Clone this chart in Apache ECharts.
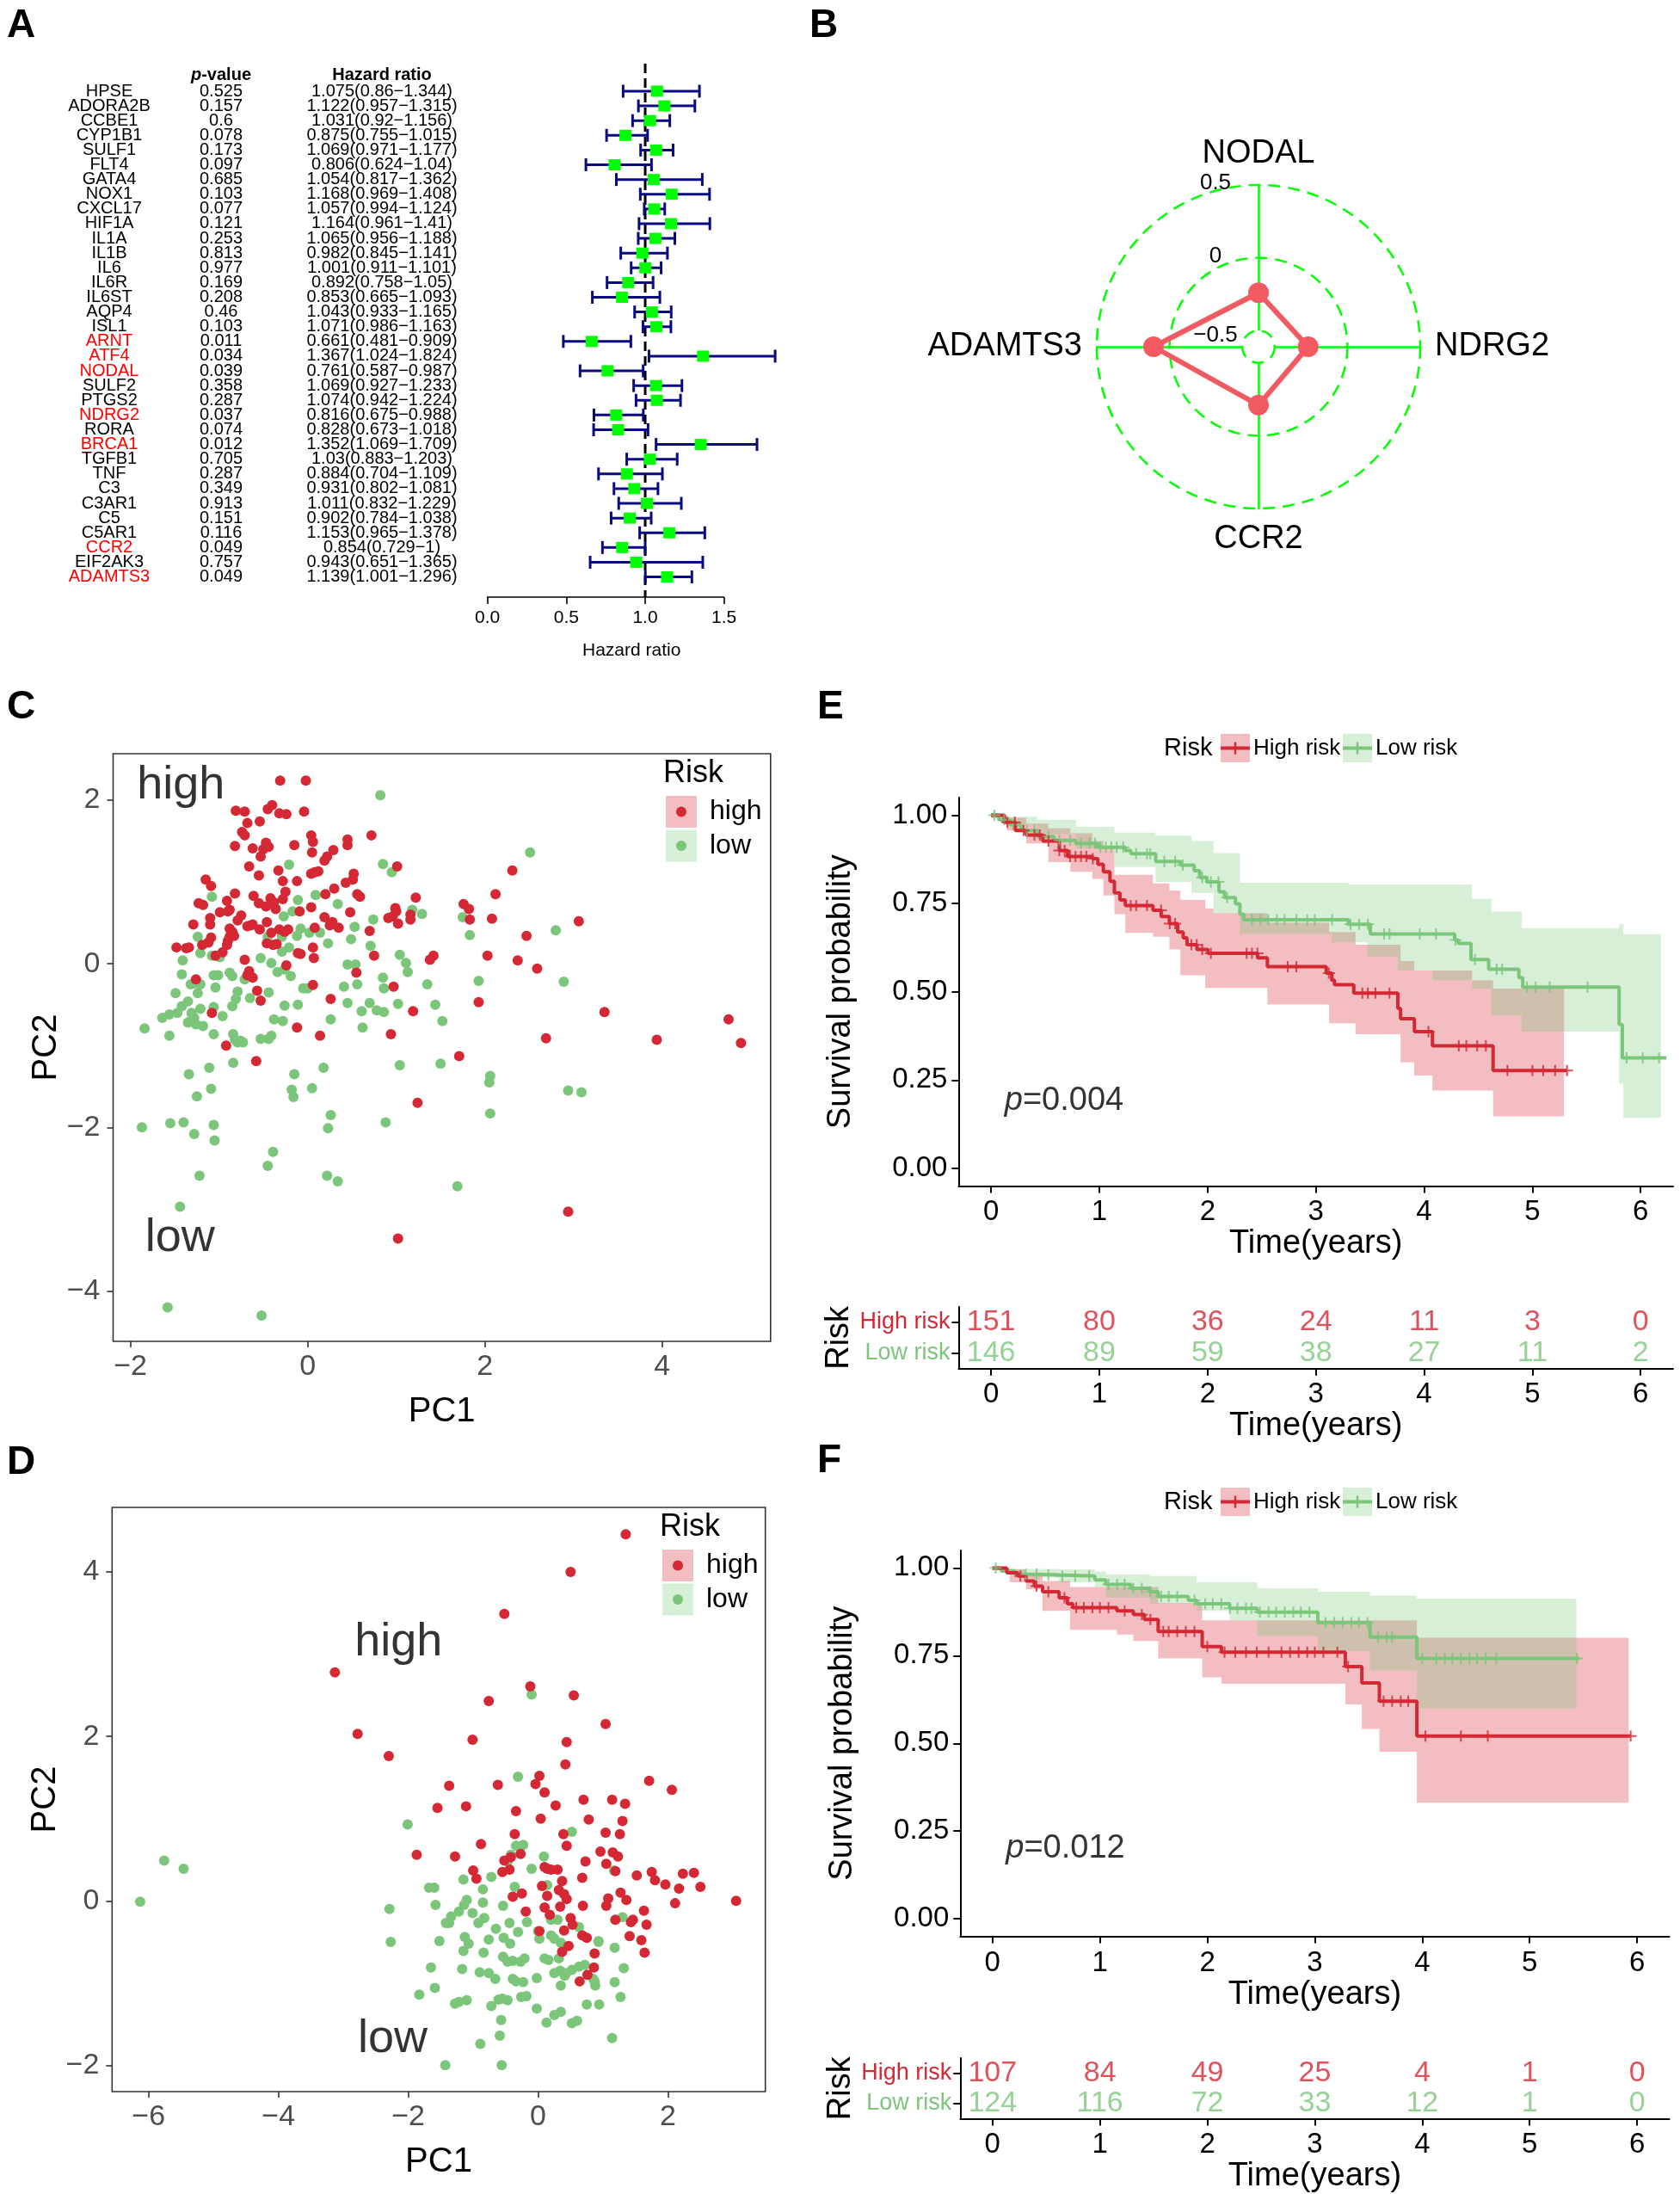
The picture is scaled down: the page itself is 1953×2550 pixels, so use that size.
<!DOCTYPE html>
<html><head><meta charset="utf-8">
<script src="https://cdn.jsdelivr.net/npm/echarts@6/dist/echarts.min.js"></script>
<style>html,body{margin:0;padding:0;background:#fff}#c{width:1953px;height:2550px}</style>
</head><body><div id="c"></div><script>
// ---------------- DATA ----------------
// Panel A
const genes = ['HPSE','ADORA2B','CCBE1','CYP1B1','SULF1','FLT4','GATA4','NOX1','CXCL17','HIF1A','IL1A','IL1B','IL6','IL6R','IL6ST','AQP4','ISL1','ARNT','ATF4','NODAL','SULF2','PTGS2','NDRG2','RORA','BRCA1','TGFB1','TNF','C3','C3AR1','C5','C5AR1','CCR2','EIF2AK3','ADAMTS3'];
const pValues = [0.525,0.157,0.6,0.078,0.173,0.097,0.685,0.103,0.077,0.121,0.253,0.813,0.977,0.169,0.208,0.46,0.103,0.011,0.034,0.039,0.358,0.287,0.037,0.074,0.012,0.705,0.287,0.349,0.913,0.151,0.116,0.049,0.757,0.049];
const hr = [1.075,1.122,1.031,0.875,1.069,0.806,1.054,1.168,1.057,1.164,1.065,0.982,1.001,0.892,0.853,1.043,1.071,0.661,1.367,0.761,1.069,1.074,0.816,0.828,1.352,1.03,0.884,0.931,1.011,0.902,1.153,0.854,0.943,1.139];
const hrLower = [0.86,0.957,0.92,0.755,0.971,0.624,0.817,0.969,0.994,0.961,0.956,0.845,0.911,0.758,0.665,0.933,0.986,0.481,1.024,0.587,0.927,0.942,0.675,0.673,1.069,0.883,0.704,0.802,0.832,0.784,0.965,0.729,0.651,1.001];
const hrUpper = [1.344,1.315,1.156,1.015,1.177,1.04,1.362,1.408,1.124,1.41,1.188,1.141,1.101,1.05,1.093,1.165,1.163,0.909,1.824,0.987,1.233,1.224,0.988,1.018,1.709,1.203,1.109,1.081,1.229,1.038,1.378,1,1.365,1.296];
const redGenes = ['ARNT','ATF4','NODAL','NDRG2','BRCA1','CCR2','ADAMTS3'];
const forestTicks = [0, 0.5, 1, 1.5];

// Panel B
const radarGenes = ['NODAL','ADAMTS3','CCR2','NDRG2'];
const radarValues = [-0.24, 0.11, -0.21, -0.27];
const radarRings = [-0.5, 0, 0.5];
const radarMin = -0.6111, radarMax = 0.5;

// Panel C
const pcaCHigh = [[-0.31,2.24],[-0.02,2.24],[-0.81,1.87],[-0.71,1.86],[-0.45,1.89],[-0.40,1.94],[-0.32,1.84],[-0.24,1.83],[-0.04,1.86],[-0.68,1.72],
[-0.54,1.74],[-0.74,1.61],[-0.71,1.57],[-0.82,1.44],[0.04,1.57],[0.06,1.49],[0.45,1.52],[0.45,1.45],[0.72,1.57],[-0.62,1.41],
[-0.47,1.48],[-0.50,1.40],[-0.44,1.43],[-0.53,1.31],[-0.15,1.45],[0.05,1.36],[0.29,1.39],[0.22,1.31],[0.19,1.26],[0.12,1.13],
[1.01,1.19],[-0.66,1.19],[-0.33,1.14],[-0.55,1.08],[-0.28,1.01],[-0.12,1.01],[0.04,1.10],[0.08,1.12],[0.52,1.10],[0.51,1.03],
[0.43,0.99],[0.30,0.92],[-1.15,1.03],[-1.09,0.95],[-0.82,0.86],[-0.61,0.83],[-0.42,0.80],[-0.25,0.88],[-0.28,0.79],[0.20,0.85],
[0.56,0.85],[0.59,0.82],[1.22,0.81],[0.99,0.68],[1.00,0.64],[0.96,0.58],[0.91,0.56],[1.02,0.49],[1.16,0.54],[1.16,0.60],
[-1.23,0.74],[-1.18,0.72],[-0.91,0.77],[-0.88,0.66],[-0.99,0.63],[-0.90,0.64],[-0.55,0.74],[-0.47,0.70],[-0.38,0.75],[-0.36,0.67],
[-0.09,0.64],[0.04,0.69],[0.48,0.63],[0.19,0.57],[0.35,0.44],[0.25,0.47],[0.28,0.51],[1.76,0.73],[1.82,0.67],[1.83,0.54],
[2.08,0.55],[2.12,0.85],[2.31,1.14],[0.70,0.40],[-1.10,0.56],[-1.10,0.48],[-1.29,0.48],[-0.79,0.53],[-0.75,0.59],[-0.88,0.43],
[-0.68,0.46],[-0.64,0.47],[-0.62,0.48],[-0.54,0.42],[-0.46,0.51],[-0.41,0.38],[-0.35,0.24],[-0.26,0.39],[-0.22,0.42],[-0.32,0.42],
[-0.11,0.13],[-0.08,0.12],[0.06,0.20],[0.07,0.07],[0.08,0.44],[-1.09,0.32],[-0.88,0.33],[-0.85,0.39],[-0.83,0.34],[-0.90,0.28],
[-0.91,0.23],[-0.96,0.14],[-1.04,0.10],[-1.12,0.26],[-1.48,0.20],[-1.37,0.19],[-1.34,0.20],[-1.19,0.23],[-0.71,0.05],[-0.66,-0.09],
[-0.68,-0.14],[-0.62,-0.17],[-0.46,0.25],[-0.39,0.23],[-0.24,-0.02],[0.75,0.10],[0.55,-0.11],[0.97,-0.28],[0.06,-0.26],[0.26,-0.43],
[-1.26,-0.19],[-1.08,-0.60],[-0.57,-0.33],[-0.53,-0.45],[-0.92,-1.00],[-0.58,-1.19],[-0.12,-0.78],[0.14,-0.88],[1.93,-0.47],[0.94,-0.86],
[1.19,-0.58],[3.35,-0.59],[4.75,-0.68],[4.89,-0.97],[3.94,-0.93],[2.69,-0.91],[1.71,-1.13],[1.24,-1.70],[2.94,-3.03],[1.02,-3.36],
[2.47,0.34],[3.06,0.52],[2.03,0.10],[2.37,0.04],[1.42,0.10],[1.38,0.05],[2.59,-0.06]];
const pcaCLow = [[0.82,2.06],[2.51,1.36],[-0.21,1.21],[0.85,1.22],[0.95,1.12],[-1.08,0.82],[-0.11,0.78],[0.09,0.84],[0.34,0.73],[0.74,0.54],
[1.18,0.66],[1.29,0.61],[1.75,0.57],[2.80,0.41],[1.83,0.35],[0.53,0.45],[0.49,0.30],[-1.24,0.33],[-1.21,0.13],[-1.08,0.10],
[-0.99,0.08],[-1.41,0.04],[-1.42,-0.13],[-0.88,-0.11],[-0.85,-0.15],[-1.01,-0.14],[-1.06,-0.14],[-1.04,-0.29],[-0.53,0.07],[-0.41,0.01],
[-0.29,0.15],[-0.45,0.33],[-0.21,0.20],[-0.26,-0.07],[-0.19,-0.15],[-0.34,-0.10],[-0.08,0.43],[0.02,0.38],[0.14,0.38],[0.23,0.25],
[-0.12,0.34],[-0.29,0.33],[-0.27,0.58],[-0.17,0.64],[0.71,0.22],[0.45,-0.01],[0.54,-0.01],[1.11,0.01],[1.13,-0.10],[1.04,0.11],
[-1.49,-0.36],[-1.47,-0.60],[-1.42,-0.52],[-1.35,-0.46],[-1.32,-0.25],[-1.28,-0.24],[-1.21,-0.25],[-1.24,-0.36],[-1.31,-0.60],[-1.28,-0.66],
[-1.32,-0.70],[-1.35,-0.72],[-1.26,-0.74],[-1.18,-0.76],[-1.21,-0.55],[-1.64,-0.66],[-1.56,-0.62],[-1.84,-0.79],[-1.56,-0.88],[-0.96,-0.64],
[-1.06,-0.53],[-0.85,-0.52],[-0.79,-0.34],[-0.71,-0.19],[-0.81,-0.43],[-0.65,-0.42],[-0.44,-0.35],[-0.38,-0.68],[-0.28,-0.70],[-0.26,-0.51],
[-0.11,-0.50],[-0.05,-0.30],[0.00,-0.30],[0.26,-0.68],[0.41,-0.28],[0.45,-0.48],[0.56,-0.25],[0.61,-0.58],[0.70,-0.48],[0.62,-0.78],
[0.78,-0.57],[0.86,-0.59],[0.86,-0.30],[0.85,-0.17],[1.02,-0.49],[-1.06,-0.86],[-0.84,-0.86],[-0.82,-0.93],[-0.79,-0.96],[-0.76,-0.94],
[-0.73,-0.96],[-0.84,-1.21],[-0.53,-0.92],[-0.41,-0.88],[-0.44,-0.92],[1.35,-0.25],[1.44,-0.50],[1.52,-0.70],[1.93,-0.21],[2.89,-0.22],
[-1.11,-1.27],[-1.34,-1.35],[-1.09,-1.53],[-1.25,-1.62],[-0.18,-1.54],[-0.16,-1.63],[-0.15,-1.35],[0.05,-1.52],[0.18,-1.27],[1.04,-1.24],
[1.50,-1.22],[2.06,-1.37],[2.05,-1.45],[2.94,-1.55],[3.09,-1.57],[-1.87,-2.00],[-1.55,-1.95],[-1.40,-1.94],[-1.28,-2.08],[-1.06,-1.97],
[-1.05,-2.16],[-0.39,-2.30],[-0.45,-2.47],[0.23,-2.01],[0.26,-1.85],[0.88,-1.94],[2.06,-1.83],[-1.22,-2.59],[0.22,-2.59],[0.34,-2.66],
[1.69,-2.72],[-1.44,-2.97],[-1.58,-4.20],[-0.52,-4.30]];
const pcaCText = [['high', -1.43, 2.18], ['low', -1.44, -3.36]];
const pcaCXTicks = [-2, 0, 2, 4];
const pcaCYTicks = [-4, -2, 0, 2];
const pcaCXRange = [-2.195, 5.224], pcaCYRange = [-4.616, 2.568];

// Panel D
const pcaDHigh = [[1.35,4.46],[0.50,4.00],[-0.52,3.49],[-3.13,2.78],[-0.12,2.61],[0.55,2.50],[-0.76,2.43],[1.04,2.15],[-2.78,2.03],[-1.01,1.96],
[0.44,1.93],[-2.30,1.76],[0.42,1.66],[1.71,1.46],[0.02,1.52],[-0.04,1.42],[-0.62,1.41],[-1.37,1.40],[2.06,1.35],[0.10,1.32],
[0.27,1.16],[0.70,1.23],[1.14,1.23],[1.34,1.18],[-1.55,1.13],[-1.11,1.15],[-0.34,1.09],[0.04,1.00],[0.78,0.99],[1.30,0.97],
[0.39,0.81],[1.04,0.83],[1.26,0.81],[-0.36,0.81],[0.44,0.67],[-0.88,0.69],[-1.87,0.56],[-1.28,0.54],[-0.27,0.57],[0.96,0.60],
[1.15,0.59],[1.23,0.54],[0.73,0.48],[1.05,0.45],[-0.42,0.53],[-0.52,0.49],[0.14,0.39],[0.20,0.38],[0.30,0.38],[0.10,0.41],
[-1.00,0.37],[-0.55,0.35],[-0.44,0.38],[-0.95,0.27],[1.19,0.36],[1.75,0.35],[1.52,0.31],[1.80,0.25],[1.96,0.20],[2.23,0.33],
[2.40,0.34],[2.50,0.17],[2.17,0.15],[0.68,0.28],[0.37,0.24],[0.06,0.18],[0.32,0.13],[0.40,0.08],[0.14,0.06],[-0.25,0.09],
[-0.39,0.05],[0.44,0.02],[1.27,0.10],[1.36,0.01],[1.08,0.03],[1.05,-0.06],[2.11,-0.03],[3.05,0.00],[0.69,-0.06],[0.34,-0.07],
[0.10,-0.08],[-0.19,-0.13],[1.63,-0.12],[0.18,-0.17],[0.50,-0.21],[1.19,-0.23],[1.46,-0.23],[1.43,-0.26],[1.67,-0.29],[0.53,-0.29],
[0.68,-0.42],[0.75,-0.45],[1.41,-0.43],[1.59,-0.48],[0.40,-0.36],[0.02,-0.37],[0.47,-0.55],[0.37,-0.62],[1.64,-0.63],[0.86,-0.81],
[0.76,-0.90],[0.64,-0.98],[0.87,-0.64]];
const pcaDLow = [[-0.10,2.51],[-0.31,1.51],[-2.01,0.93],[0.52,0.84],[-0.34,0.67],[-0.23,0.68],[-0.42,0.56],[0.09,0.54],[-0.47,0.48],[-0.10,0.39],
[-5.76,0.49],[-5.46,0.39],[-6.13,-0.01],[-2.29,-0.10],[-2.27,-0.50],[-1.68,0.16],[-1.60,0.16],[-1.15,0.26],[-0.72,0.29],[-1.14,-0.05],
[-1.10,0.01],[-0.85,0.14],[-0.36,0.17],[0.14,0.19],[1.17,0.37],[-1.58,-0.05],[-1.34,-0.19],[-1.22,-0.13],[-1.01,-0.15],[-1.37,-0.27],
[-0.85,-0.02],[-0.83,-0.21],[-1.13,-0.44],[-0.92,-0.27],[-0.65,-0.34],[-0.44,-0.27],[-0.54,-0.06],[-0.17,-0.26],[0.00,-0.37],[0.02,-0.46],
[0.20,-0.23],[0.30,-0.23],[0.20,-0.42],[0.25,-0.46],[0.35,-0.51],[0.63,-0.32],[0.93,-0.49],[1.18,-0.57],[1.30,-0.20],[-1.42,-0.27],
[-1.15,-0.61],[-1.07,-0.52],[-0.84,-0.63],[-0.76,-0.47],[-0.53,-0.45],[-0.43,-0.52],[-0.31,-0.38],[-1.52,-0.49],[-1.65,-0.81],[-1.17,-0.83],
[-0.90,-0.87],[-0.76,-0.88],[-0.54,-0.68],[-0.47,-0.74],[-0.39,-0.73],[-0.27,-0.74],[-0.21,-0.70],[0.10,-0.70],[-0.02,-0.94],[0.16,-0.72],
[0.32,-0.70],[0.34,-0.85],[0.25,-0.88],[0.43,-0.88],[0.41,-0.91],[0.52,-0.84],[0.63,-0.80],[0.72,-0.78],[0.87,-0.98],[0.88,-1.03],
[0.85,-0.95],[0.93,-0.50],[1.18,-0.99],[1.32,-0.82],[1.27,-1.17],[-0.23,-0.99],[-0.39,-0.95],[-0.34,-0.98],[-0.66,-0.95],[-0.26,-1.17],
[-0.18,-1.16],[-0.02,-1.31],[0.35,-1.03],[0.35,-1.35],[0.25,-1.39],[0.13,-1.48],[0.52,-1.49],[0.60,-1.46],[0.75,-1.26],[0.94,-1.26],
[-1.59,-1.06],[-1.83,-1.14],[-1.22,-1.23],[-1.28,-1.25],[-1.10,-1.21],[-0.72,-1.28],[-0.61,-1.20],[-0.55,-1.19],[-0.47,-1.21],[-0.57,-1.45],
[-0.59,-1.64],[-0.89,-1.74],[-1.43,-2.00],[-0.56,-2.00],[1.14,-1.67]];
const pcaDText = [['high', -2.15, 3.14], ['low', -2.24, -1.68]];
const pcaDXTicks = [-6, -4, -2, 0, 2];
const pcaDYTicks = [-2, 0, 2, 4];
const pcaDXRange = [-6.562, 3.50], pcaDYRange = [-2.321, 4.786];

// Panels E / F (Kaplan-Meier)
const timeTicks = [0, 1, 2, 3, 4, 5, 6];
const survTicks = [0, 0.25, 0.5, 0.75, 1];
const riskGroups = ['Low risk', 'High risk'];

const kmEHighT = [0,0.122,0.224,0.325,0.478,0.63,0.707,0.935,0.986,1.037,1.098,1.139,1.19,1.24,1.495,1.571,1.647,1.723,1.774,1.81,1.901,2.003,2.461,2.552,3.096,3.147,3.172,3.35,3.757,3.782,3.91,4.077,4.637,5.318];
const kmEHighS = [1,0.98,0.957,0.944,0.927,0.90,0.883,0.877,0.861,0.84,0.813,0.78,0.76,0.744,0.731,0.713,0.693,0.669,0.653,0.633,0.62,0.609,0.596,0.571,0.553,0.533,0.52,0.496,0.453,0.424,0.387,0.347,0.277,0.277];
const kmEHighCensor = [0.15,0.22,0.30,0.40,0.45,0.53,0.63,0.68,0.73,0.78,0.83,0.88,0.94,1.29,1.34,1.44,1.57,1.65,1.70,1.85,1.90,1.95,2.03,2.36,2.41,2.46,2.74,2.82,3.12,3.43,3.48,3.55,3.68,4.04,4.32,4.39,4.49,4.57,4.77,5.00,5.10,5.21,5.32];
const kmEHighBandT = [0,0.147,0.325,0.529,0.732,0.935,1.037,1.139,1.24,1.495,1.647,1.749,1.978,2.054,2.552,3.122,3.366,3.782,3.909,4.077,4.443,4.637,5.292];
const kmEHighLo = [0.993,0.957,0.92,0.867,0.84,0.82,0.773,0.72,0.667,0.656,0.62,0.547,0.511,0.511,0.464,0.411,0.38,0.3,0.263,0.22,0.22,0.147,0.147];
const kmEHighUp = [1.0,0.993,0.976,0.963,0.949,0.927,0.907,0.831,0.831,0.807,0.787,0.76,0.736,0.723,0.696,0.669,0.633,0.587,0.56,0.56,0.533,0.509,0.509];

const kmELowT = [0,0.071,0.173,0.275,0.427,0.58,0.783,0.986,1.24,1.291,1.52,1.749,1.876,1.927,1.993,2.105,2.156,2.257,2.298,2.334,3.3,3.503,4.281,4.316,4.433,4.596,4.875,4.911,5.801,5.831,6.238];
const kmELowS = [1,0.987,0.973,0.957,0.94,0.929,0.92,0.909,0.90,0.891,0.869,0.859,0.843,0.824,0.811,0.783,0.767,0.749,0.72,0.704,0.691,0.664,0.647,0.637,0.591,0.564,0.54,0.513,0.407,0.313,0.313];
const kmELowCensor = [0.03,0.12,0.2,0.33,0.4,0.53,0.63,0.73,0.83,0.91,0.96,1.01,1.06,1.11,1.16,1.22,1.34,1.44,1.47,1.6,1.7,1.77,1.95,2.03,2.1,2.18,2.41,2.49,2.56,2.64,2.71,2.82,2.92,2.99,3.15,3.32,3.4,3.48,3.63,3.68,3.96,4.11,4.29,4.47,4.67,4.72,4.95,5.03,5.16,5.51,5.87,6.02,6.17];
const kmELowBandT = [0,0.122,0.427,0.783,1.139,1.52,1.851,2.054,2.298,3.147,3.3,3.477,3.757,4.077,4.443,4.621,4.901,5.801,5.841,6.187];
const kmELowLo = [0.993,0.973,0.947,0.907,0.853,0.811,0.78,0.723,0.664,0.64,0.64,0.60,0.56,0.533,0.509,0.433,0.387,0.24,0.143,0.143];
const kmELowUp = [1.0,0.996,0.987,0.967,0.951,0.943,0.927,0.893,0.809,0.809,0.803,0.803,0.803,0.803,0.763,0.727,0.68,0.691,0.663,0.663];
const riskEHigh = [151, 80, 36, 24, 11, 3, 0];
const riskELow = [146, 89, 59, 38, 27, 11, 2];
const pValueE = 'p=0.004', pPosE = [0.12, 0.19];

const kmFHighT = [0,0.133,0.236,0.312,0.389,0.466,0.62,0.697,0.748,1.158,1.311,1.414,1.542,1.952,2.131,3.284,3.438,3.601,3.95,5.938];
const kmFHighS = [1,0.986,0.977,0.963,0.948,0.932,0.915,0.898,0.887,0.878,0.867,0.853,0.819,0.776,0.76,0.719,0.672,0.62,0.521,0.521];
const kmFHighCensor = [0.26,0.41,0.52,0.67,0.78,0.85,0.93,1.0,1.08,1.23,1.39,1.47,1.59,1.64,1.72,1.8,1.88,2.0,2.16,2.26,2.36,2.46,2.57,2.69,2.77,2.85,2.93,3.0,3.08,3.21,3.31,3.64,3.72,3.8,3.87,4.03,4.36,4.61,5.94];
const kmFHighBandT = [0,0.159,0.312,0.466,0.722,1.158,1.311,1.542,1.952,2.131,3.284,3.438,3.601,3.95,5.922];
const kmFHighLo = [0.995,0.959,0.939,0.878,0.824,0.81,0.792,0.742,0.688,0.67,0.611,0.541,0.476,0.331,0.331];
const kmFHighUp = [1.0,0.996,0.98,0.963,0.946,0.946,0.946,0.9,0.851,0.851,0.851,0.851,0.851,0.801,0.801];

const kmFLowT = [0,0.082,0.21,0.415,0.62,0.953,1.055,1.286,1.465,1.542,1.824,1.901,2.208,2.464,3.028,3.514,3.95,5.461];
const kmFLowS = [1,0.991,0.982,0.98,0.977,0.966,0.953,0.942,0.932,0.919,0.908,0.898,0.885,0.874,0.844,0.803,0.742,0.742];
const kmFLowCensor = [0.03,0.31,0.41,0.52,0.65,0.77,0.9,1.08,1.16,1.23,1.31,1.39,1.47,1.57,1.64,1.72,1.88,1.98,2.05,2.13,2.21,2.28,2.36,2.41,2.49,2.57,2.64,2.72,2.8,2.87,2.95,3.1,3.18,3.26,3.34,3.41,3.49,3.59,3.67,3.72,4.0,4.13,4.21,4.28,4.36,4.44,4.51,4.59,4.69,5.44];
const kmFLowBandT = [0,0.21,0.62,0.953,1.055,1.465,1.901,2.208,2.464,3.028,3.514,3.95,5.435];
const kmFLowLo = [0.995,0.973,0.959,0.946,0.915,0.898,0.878,0.851,0.806,0.763,0.708,0.60,0.60];
const kmFLowUp = [1.0,0.997,0.996,0.99,0.982,0.977,0.959,0.959,0.942,0.932,0.921,0.912,0.912];
const riskFHigh = [107, 84, 49, 25, 4, 1, 0];
const riskFLow = [124, 116, 72, 33, 12, 1, 0];
const pValueF = 'p=0.012', pPosF = [0.12, 0.20];

// ---------------- STYLE / LAYOUT ----------------
const FONT = '"Liberation Sans", Arial, Helvetica, sans-serif';
const RED = '#D42834', GREEN = '#7CC67C';
const RED_FILL = 'rgba(212,40,52,0.3)', GREEN_FILL = 'rgba(124,198,124,0.3)';
const NAVY = '#0A0A80', LIME = '#00FF00', SALMON = '#F15A60';
const FOREST = {left: 566.7, top: 74, width: 275, height: 620, ymin: -1.87, ymax: 34.37};
const COL_GENE = 127, COL_P = 257, COL_HR = 444;
const RADAR_CX = 1463, RADAR_CY = 403, RADAR_R = 188;
const G_C = {left: 131.5, top: 876, width: 764.3, height: 683};
const G_D = {left: 130.3, top: 1752, width: 759.4, height: 679};
const G_E = {left: 1114.4, top: 927, width: 830.6, height: 451.4};
const G_ER = {left: 1114.4, top: 1519, width: 830.6, height: 71.7};
const G_F = {left: 1116.3, top: 1802, width: 824.3, height: 448.5};
const G_FR = {left: 1116.3, top: 2392, width: 824.3, height: 70.5};

const minus = v => (v < 0 ? '\u2212' + Math.abs(v) : String(v));
function survAt(T, S, t) { let s = S[0]; for (let i = 0; i < T.length; i++) { if (T[i] <= t) s = S[i]; else break; } return s; }
function txtStyle(o) { const s = Object.assign({fontFamily: FONT, fill: '#000'}, o); if (s.align) s.textAlign = s.align; if (s.verticalAlign) s.textVerticalAlign = s.verticalAlign; return s; }
const PLUS = 'path://M8.5,0h3v8.5h8.5v3h-8.5v8.5h-3v-8.5h-8.5v-3h8.5z';

const grids = [FOREST, G_C, G_E, G_ER, G_D, G_F, G_FR].map(g => ({left: g.left, top: g.top, width: g.width, height: g.height, containLabel: false, outerBoundsMode: 'none'}));
grids[1].show = true; grids[1].borderColor = '#333'; grids[1].borderWidth = 1.6; grids[1].backgroundColor = 'transparent';
grids[4].show = true; grids[4].borderColor = '#333'; grids[4].borderWidth = 1.6; grids[4].backgroundColor = 'transparent';

function pcaX(gi, range, ticks) {
  return {type: 'value', gridIndex: gi, min: range[0], max: range[1], position: 'bottom',
    axisLine: {show: false, onZero: false}, splitLine: {show: false},
    axisTick: {show: true, customValues: ticks, length: 7, lineStyle: {color: '#333', width: 1.6}},
    axisLabel: {customValues: ticks, formatter: minus, color: '#4D4D4D', fontSize: 34, margin: 13, fontFamily: FONT},
    name: 'PC1', nameLocation: 'middle', nameGap: 62, nameTextStyle: {fontSize: 40, color: '#000', fontFamily: FONT}};
}
function pcaY(gi, range, ticks) {
  return {type: 'value', gridIndex: gi, min: range[0], max: range[1], position: 'left',
    axisLine: {show: false, onZero: false}, splitLine: {show: false},
    axisTick: {show: true, customValues: ticks, length: 7, lineStyle: {color: '#333', width: 1.6}},
    axisLabel: {customValues: ticks, formatter: minus, color: '#4D4D4D', fontSize: 34, margin: 15, fontFamily: FONT},
    name: 'PC2', nameLocation: 'middle', nameGap: 54, nameTextStyle: {fontSize: 40, color: '#000', fontFamily: FONT}};
}
function kmX(gi, margin, gap) {
  return {type: 'value', gridIndex: gi, min: -0.3, max: 6.3, position: 'bottom',
    axisLine: {show: true, onZero: false, lineStyle: {color: '#000', width: 2}}, splitLine: {show: false},
    axisTick: {show: true, customValues: timeTicks, length: 8, lineStyle: {color: '#000', width: 2}},
    axisLabel: {customValues: timeTicks, color: '#000', fontSize: 33, margin: margin, fontFamily: FONT},
    name: 'Time(years)', nameLocation: 'middle', nameGap: gap, nameTextStyle: {fontSize: 38, color: '#000', fontFamily: FONT}};
}
function kmY(gi) {
  return {type: 'value', gridIndex: gi, min: -0.05, max: 1.05, position: 'left',
    axisLine: {show: true, onZero: false, lineStyle: {color: '#000', width: 2}}, splitLine: {show: false},
    axisTick: {show: true, customValues: survTicks, length: 8, lineStyle: {color: '#000', width: 2}},
    axisLabel: {customValues: survTicks, formatter: v => v.toFixed(2), color: '#000', fontSize: 33, margin: 13, fontFamily: FONT},
    name: 'Survival probability', nameLocation: 'middle', nameGap: 118, nameTextStyle: {fontSize: 38, color: '#000', fontFamily: FONT}};
}
function riskY(gi) {
  return {type: 'category', gridIndex: gi, data: riskGroups, position: 'left',
    axisLine: {show: true, onZero: false, lineStyle: {color: '#000', width: 2}}, splitLine: {show: false},
    axisTick: {show: true, alignWithLabel: true, length: 8, lineStyle: {color: '#000', width: 2}},
    axisLabel: {fontSize: 27, margin: 10, fontFamily: FONT, color: v => (v === 'High risk' ? RED : GREEN)},
    name: 'Risk', nameLocation: 'middle', nameGap: 120, nameTextStyle: {fontSize: 38, color: '#000', fontFamily: FONT}};
}

const xAxes = [
  {type: 'value', gridIndex: 0, min: forestTicks[0], max: forestTicks[forestTicks.length - 1], interval: 0.5, position: 'bottom',
   axisLine: {show: true, onZero: false, lineStyle: {color: '#000', width: 1.6}}, splitLine: {show: false},
   axisTick: {show: true, length: 8, lineStyle: {color: '#000', width: 1.6}},
   axisLabel: {color: '#000', fontSize: 21, margin: 14, fontFamily: FONT, formatter: v => v.toFixed(1)},
   name: 'Hazard ratio', nameLocation: 'middle', nameGap: 52, nameTextStyle: {fontSize: 21, color: '#000', fontFamily: FONT, padding: [0, 0, 0, 60]}},
  pcaX(1, pcaCXRange, pcaCXTicks),
  kmX(2, 14, 40),
  kmX(3, 14, 40),
  pcaX(4, pcaDXRange, pcaDXTicks),
  kmX(5, 15, 41),
  kmX(6, 14, 40)
];
const yAxes = [
  {type: 'value', gridIndex: 0, min: FOREST.ymin, max: FOREST.ymax, inverse: true, show: false},
  pcaY(1, pcaCYRange, pcaCYTicks),
  kmY(2),
  riskY(3),
  pcaY(4, pcaDYRange, pcaDYTicks),
  kmY(5),
  riskY(6)
];

// ---------------- SERIES ----------------
const series = [];
// Forest: reference line at HR = 1
series.push({type: 'line', xAxisIndex: 0, yAxisIndex: 0, data: [[1, FOREST.ymin], [1, FOREST.ymax]], symbol: 'none', silent: true, z: 1,
  lineStyle: {color: '#000', width: 3, type: [11, 6]}});
// Forest: CI bars + boxes
series.push({type: 'custom', xAxisIndex: 0, yAxisIndex: 0, clip: false, silent: true, z: 3,
  data: genes.map((g, i) => [hr[i], i, hrLower[i], hrUpper[i]]),
  encode: {x: [0, 2, 3], y: 1},
  renderItem(params, api) {
    const row = api.value(1);
    const c = api.coord([api.value(0), row]);
    const lo = api.coord([api.value(2), row])[0], hi = api.coord([api.value(3), row])[0];
    const y = c[1], st = {stroke: NAVY, lineWidth: 3};
    return {type: 'group', children: [
      {type: 'line', shape: {x1: lo, y1: y, x2: hi, y2: y}, style: st},
      {type: 'line', shape: {x1: lo, y1: y - 7.5, x2: lo, y2: y + 7.5}, style: st},
      {type: 'line', shape: {x1: hi, y1: y - 7.5, x2: hi, y2: y + 7.5}, style: st},
      {type: 'rect', shape: {x: c[0] - 7, y: y - 6.5, width: 14, height: 13}, style: {fill: LIME}}
    ]};
  }});
// Forest: table text
series.push({type: 'custom', xAxisIndex: 0, yAxisIndex: 0, clip: false, silent: true, z: 3,
  data: genes.map((g, i) => [0, i]),
  renderItem(params, api) {
    const i = params.dataIndex;
    const y = api.coord([0, i])[1];
    const t = (x, s, color) => ({type: 'text', x: x, y: y, style: txtStyle({text: s, fill: color, fontSize: 20, align: 'center', verticalAlign: 'middle'})});
    const hrTxt = hr[i] + '(' + hrLower[i] + '\u2212' + hrUpper[i] + ')';
    return {type: 'group', children: [
      t(COL_GENE, genes[i], redGenes.indexOf(genes[i]) >= 0 ? '#FF0000' : '#000'),
      t(COL_P, String(pValues[i]), '#000'),
      t(COL_HR, hrTxt, '#000')
    ]};
  }});
// Forest: header
series.push({type: 'custom', xAxisIndex: 0, yAxisIndex: 0, clip: false, silent: true, z: 3,
  data: [[0, -1.1]],
  renderItem(params, api) {
    const y = api.coord([0, api.value(1)])[1];
    return {type: 'group', children: [
      {type: 'text', x: COL_P, y: y, style: txtStyle({text: '{i|p}{b|-value}', align: 'center', verticalAlign: 'middle', fontSize: 20,
        rich: {i: {fontStyle: 'italic', fontWeight: 'bold', fontSize: 20, fontFamily: FONT}, b: {fontWeight: 'bold', fontSize: 20, fontFamily: FONT}}})},
      {type: 'text', x: COL_HR, y: y, style: txtStyle({text: 'Hazard ratio', fontWeight: 'bold', fontSize: 20, align: 'center', verticalAlign: 'middle'})}
    ]};
  }});

// Radar
series.push({type: 'radar', radarIndex: 0, symbol: 'circle', symbolSize: 24, silent: true, z: 2,
  lineStyle: {color: SALMON, width: 6}, itemStyle: {color: SALMON},
  data: [{value: radarValues}]});

// PCA scatter
function pcaSeries(gi, low, high, texts) {
  const out = [];
  out.push({type: 'scatter', xAxisIndex: gi, yAxisIndex: gi, data: low, symbolSize: 12, itemStyle: {color: GREEN, opacity: 1}, silent: true, z: 2});
  out.push({type: 'scatter', xAxisIndex: gi, yAxisIndex: gi, data: high, symbolSize: 12, itemStyle: {color: RED, opacity: 1}, silent: true, z: 3});
  out.push({type: 'scatter', xAxisIndex: gi, yAxisIndex: gi, symbolSize: 1, itemStyle: {color: 'rgba(0,0,0,0)'}, silent: true, z: 4,
    data: texts.map(t => ({value: [t[1], t[2]], name: t[0]})),
    label: {show: true, position: 'inside', formatter: p => p.name, fontSize: 54, color: '#000', fontFamily: FONT}});
  return out;
}
series.push(...pcaSeries(1, pcaCLow, pcaCHigh, pcaCText));
series.push(...pcaSeries(4, pcaDLow, pcaDHigh, pcaDText));

// KM
function bandSeries(gi, T, LO, UP, fill) {
  return {type: 'custom', xAxisIndex: gi, yAxisIndex: gi, data: [[0, 0]], silent: true, z: 1,
    renderItem(params, api) {
      const pts = [];
      for (let i = 0; i < T.length - 1; i++) { pts.push(api.coord([T[i], UP[i]])); pts.push(api.coord([T[i + 1], UP[i]])); }
      for (let i = T.length - 2; i >= 0; i--) { pts.push(api.coord([T[i + 1], LO[i]])); pts.push(api.coord([T[i], LO[i]])); }
      return {type: 'polygon', shape: {points: pts}, style: {fill: fill}};
    }};
}
function curveSeries(gi, T, S, C, color) {
  return [
    {type: 'line', xAxisIndex: gi, yAxisIndex: gi, step: 'end', symbol: 'none', silent: true, z: 3,
     data: T.map((t, i) => [t, S[i]]), lineStyle: {color: color, width: 4}},
    {type: 'scatter', xAxisIndex: gi, yAxisIndex: gi, symbol: PLUS, symbolSize: [14, 13], silent: true, z: 4,
     data: C.map(t => [t, survAt(T, S, t)]), itemStyle: {color: color}}
  ];
}
function pSeries(gi, text, pos) {
  return {type: 'scatter', xAxisIndex: gi, yAxisIndex: gi, symbolSize: 1, itemStyle: {color: 'rgba(0,0,0,0)'}, silent: true, z: 5,
    data: [{value: pos, name: text}],
    label: {show: true, position: 'right', distance: 0, formatter: () => '{i|p}{n|' + text.slice(1) + '}',
      rich: {i: {fontStyle: 'italic', fontSize: 38, fontFamily: FONT, color: '#000'}, n: {fontSize: 38, fontFamily: FONT, color: '#000'}}}};
}
function riskSeries(gi, hi, lo) {
  const mk = (vals, row, color) => ({type: 'scatter', xAxisIndex: gi, yAxisIndex: gi, symbolSize: 1, itemStyle: {color: 'rgba(0,0,0,0)'}, silent: true,
    data: timeTicks.map((t, i) => [t, row, vals[i]]),
    label: {show: true, position: 'inside', formatter: p => String(p.value[2]), fontSize: 34, color: color, fontFamily: FONT}});
  return [mk(hi, 1, RED), mk(lo, 0, GREEN)];
}
series.push(bandSeries(2, kmEHighBandT, kmEHighLo, kmEHighUp, RED_FILL));
series.push(bandSeries(2, kmELowBandT, kmELowLo, kmELowUp, GREEN_FILL));
series.push(...curveSeries(2, kmELowT, kmELowS, kmELowCensor, GREEN));
series.push(...curveSeries(2, kmEHighT, kmEHighS, kmEHighCensor, RED));
series.push(pSeries(2, pValueE, pPosE));
series.push(...riskSeries(3, riskEHigh, riskELow));

series.push(bandSeries(5, kmFHighBandT, kmFHighLo, kmFHighUp, RED_FILL));
series.push(bandSeries(5, kmFLowBandT, kmFLowLo, kmFLowUp, GREEN_FILL));
series.push(...curveSeries(5, kmFLowT, kmFLowS, kmFLowCensor, GREEN));
series.push(...curveSeries(5, kmFHighT, kmFHighS, kmFHighCensor, RED));
series.push(pSeries(5, pValueF, pPosF));
series.push(...riskSeries(6, riskFHigh, riskFLow));

// Radar components (one per ring)
const ringRadius = v => RADAR_R * (v - radarMin) / (radarMax - radarMin);
const radars = radarRings.slice().reverse().map((v, k) => ({
  center: [RADAR_CX, RADAR_CY], radius: ringRadius(v), shape: 'circle', startAngle: 90, splitNumber: 1,
  indicator: radarGenes.map(n => ({name: n, min: radarMin, max: radarMax})),
  axisName: {show: k === 0, color: '#000', fontSize: 38, fontFamily: FONT}, axisNameGap: 17,
  axisLine: {show: k === 0, lineStyle: {color: LIME, width: 2.5}},
  splitLine: {show: true, lineStyle: {color: LIME, width: 2.5, type: [14, 9]}},
  splitArea: {show: k === radarRings.length - 1, areaStyle: {color: ['#fff']}},
  axisTick: {show: false}, axisLabel: {show: false},
  z: k === radarRings.length - 1 ? 1 : 0
}));

// ---------------- GRAPHIC (labels, legends) ----------------
const g = [];
const panelLabel = (s, x, y) => g.push({type: 'text', x: x, y: y, style: txtStyle({text: s, fontSize: 46, fontWeight: 'bold', align: 'left', verticalAlign: 'middle'})});
panelLabel('A', 8, 30); panelLabel('B', 941, 30);
panelLabel('C', 8, 822); panelLabel('E', 950, 822);
panelLabel('D', 8, 1700); panelLabel('F', 950, 1698);

radarRings.forEach(v => g.push({type: 'text', x: RADAR_CX - 50, y: RADAR_CY - ringRadius(v) + (v < 0 ? 6 : -2),
  style: txtStyle({text: minus(v), fontSize: 26, align: 'center', verticalAlign: 'middle'})}));

function pcaLegend(x, titleY, keyY) {
  g.push({type: 'text', x: x - 3, y: titleY, style: txtStyle({text: 'Risk', fontSize: 36, align: 'left', verticalAlign: 'middle'})});
  [['high', RED_FILL, RED], ['low', GREEN_FILL, GREEN]].forEach((d, k) => {
    const y0 = keyY + k * 39.5;
    g.push({type: 'rect', shape: {x: x, y: y0, width: 36, height: 37}, style: {fill: d[1]}});
    g.push({type: 'circle', shape: {cx: x + 18, cy: y0 + 18.5, r: 6}, style: {fill: d[2]}});
    g.push({type: 'text', x: x + 51, y: y0 + 18.5, style: txtStyle({text: d[0], fontSize: 32, align: 'left', verticalAlign: 'middle'})});
  });
}
pcaLegend(774, 899, 925);
pcaLegend(770, 1775, 1801);

function kmLegend(cy) {
  g.push({type: 'text', x: 1353, y: cy, style: txtStyle({text: 'Risk', fontSize: 29, align: 'left', verticalAlign: 'middle'})});
  [['High risk', RED_FILL, RED, 1419], ['Low risk', GREEN_FILL, GREEN, 1561]].forEach(d => {
    const x = d[3];
    g.push({type: 'rect', shape: {x: x, y: cy - 16.5, width: 34, height: 33}, style: {fill: d[1]}});
    g.push({type: 'line', shape: {x1: x, y1: cy, x2: x + 34, y2: cy}, style: {stroke: d[2], lineWidth: 4}});
    g.push({type: 'line', shape: {x1: x + 17, y1: cy - 7, x2: x + 17, y2: cy + 7}, style: {stroke: d[2], lineWidth: 2.5}});
    g.push({type: 'text', x: x + 38, y: cy, style: txtStyle({text: d[0], fontSize: 26, align: 'left', verticalAlign: 'middle'})});
  });
}
kmLegend(869.5);
kmLegend(1745.5);

const chart = echarts.init(document.getElementById('c'), null, {renderer: 'canvas'});
chart.setOption({
  animation: false,
  backgroundColor: '#fff',
  textStyle: {fontFamily: FONT},
  grid: grids,
  xAxis: xAxes,
  yAxis: yAxes,
  radar: radars,
  series: series,
  graphic: {elements: g}
});
</script></body></html>
